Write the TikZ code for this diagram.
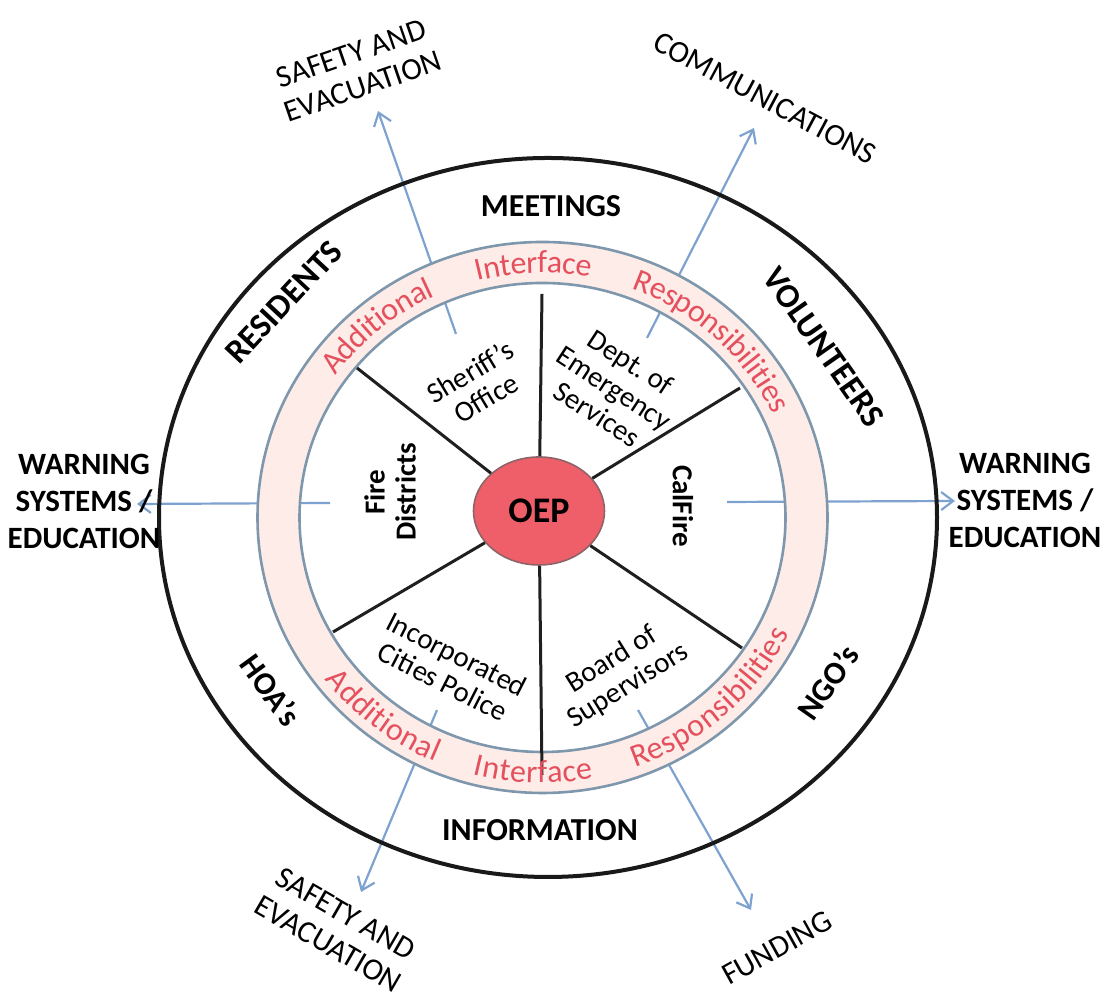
\documentclass[tikz,border=0pt]{standalone}
\usepackage{fontspec}
\setmainfont{Carlito}
\usetikzlibrary{arrows.meta,shapes.geometric,decorations.text}

\definecolor{ringred}{HTML}{E5505E}
\definecolor{ringfill}{HTML}{FDECE7}
\definecolor{ringline}{HTML}{7E97AC}
\definecolor{oepred}{HTML}{EF5F69}
\definecolor{oepedge}{HTML}{8E6368}
\definecolor{arrowblue}{HTML}{7EA2CF}

\newcommand\ringsize{\fontsize{16}{19}\selectfont}
% red words set along the middle of the ring: start angle, end angle, word
\newcommand\ringtext[3]{%
  \path[decorate, decoration={text along path, text={|\ringsize|#3},
        text color=ringred, text align=center, raise=-5.2pt}]
    ([shift={(ringc)}]#1:132pt and 127.5pt)
    arc[start angle=#1, end angle=#2, x radius=132pt, y radius=127.5pt];}

\begin{document}
\begin{tikzpicture}[x=0.5pt,y=0.5pt,
  flow/.style={draw=arrowblue, line width=1.1pt, -{Straight Barb[length=6pt,width=9pt]}},
  spoke/.style={draw=black!88, line width=1.5pt},
  ringedge/.style={draw=ringline, line width=1.3pt},
  band/.style={font=\bfseries\fontsize{16}{19}\selectfont, inner sep=0pt},
  outlabel/.style={font=\fontsize{15.5}{17.5}\selectfont, align=center, inner sep=0pt},
  unit/.style={font=\fontsize{14.5}{15.5}\selectfont, align=center, inner sep=0pt},
  warn/.style={font=\bfseries\fontsize{15.5}{18.5}\selectfont, align=center, inner sep=0pt},
  hub/.style={ellipse, draw=oepedge, line width=0.8pt, fill=oepred, inner sep=0pt,
              minimum width=65.5pt, minimum height=54pt,
              font=\bfseries\fontsize{18}{20}\selectfont}]

\useasboundingbox (0,0) rectangle (1109,1004);

% centres of the outer circle and of the ring
\coordinate (outc) at (548,486.5);
\coordinate (ringc) at (542.5,486.5);

% arrow ends
\coordinate (aul0) at (456,670);  \coordinate (aul1) at (378,893);
\coordinate (aur0) at (647,666);  \coordinate (aur1) at (754,876);
\coordinate (all0) at (437,294);  \coordinate (all1) at (361,112);
\coordinate (alr0) at (638,294);  \coordinate (alr1) at (751,94);
\coordinate (al0) at (330,501);   \coordinate (al1) at (137,500);
\coordinate (ar0) at (727,502);   \coordinate (ar1) at (955,503);

% outgoing arrows (the ring band is painted over them)
\draw[flow] (aul0) -- (aul1);
\draw[flow] (aur0) -- (aur1);
\draw[flow] (all0) -- (all1);
\draw[flow] (alr0) -- (alr1);
\draw[flow] (al0) -- (al1);
\draw[flow] (ar0) -- (ar1);

% outer circle
\draw[line width=2pt, black!90] (outc) ellipse[x radius=194.5pt, y radius=179.75pt];

% ring band
\fill[ringfill, even odd rule]
  (ringc) ellipse[x radius=142.5pt, y radius=137.75pt]
  (ringc) ellipse[x radius=121.5pt, y radius=117.25pt];
\draw[ringedge] (ringc) ellipse[x radius=142.5pt, y radius=137.75pt];
\draw[ringedge] (ringc) ellipse[x radius=121.5pt, y radius=117.25pt];

% hub and spokes
\node[hub] (oep) at (539,493) {OEP};
\coordinate (stop) at (542,710);
\coordinate (sbot) at (542,229);
\coordinate (sul) at (357,636);
\coordinate (sur) at (740,616);
\coordinate (sll) at (333,372);
\coordinate (slr) at (742,356);
\draw[spoke] (oep) -- (stop);
\draw[spoke] (oep) -- (sbot);
\draw[spoke] (oep) -- (sul);
\draw[spoke] (oep) -- (sur);
\draw[spoke] (oep) -- (sll);
\draw[spoke] (oep) -- (slr);

% words in the ring
\ringtext{160}{100}{Additional}
\ringtext{110}{74}{Interface}
\ringtext{80}{14}{Responsibilities}
\ringtext{202}{262}{Additional}
\ringtext{250}{286}{Interface}
\ringtext{280}{344}{Responsibilities}

% units in the sectors
\node[unit, rotate=31] (sheriff) at (478,619) {Sheriff’s\\Office};
\node[unit, rotate=-33] (des) at (614,616) {Dept.\ of\\Emergency\\Services};
\node[unit, font=\bfseries\fontsize{14.5}{15.5}\selectfont, rotate=-90] (calfire) at (683,498) {CalFire};
\node[unit, font=\bfseries\fontsize{14.5}{15.5}\selectfont, rotate=90] (fire) at (390,512) {Fire\\Districts};
\node[unit, rotate=32] (board) at (620,331) {Board of\\Supervisors};
\node[unit, rotate=-27] (police) at (450,336) {Incorporated\\Cities Police};

% groups in the outer band
\node[band] (meet) at (551,798) {MEETINGS};
\node[band] (info) at (540,174) {INFORMATION};
\node[band, font=\bfseries\fontsize{17}{19}\selectfont, rotate=47] (res) at (284,702) {RESIDENTS};
\node[band, font=\bfseries\fontsize{17}{19}\selectfont, rotate=-55] (vol) at (824,657) {VOLUNTEERS};
\node[band, rotate=-54] (hoa) at (271,314) {HOA’s};
\node[band, rotate=55] (ngo) at (828,322) {NGO’s};

% outcomes outside the circle
\node[outlabel, rotate=19] (safe1) at (357,934) {SAFETY AND\\EVACUATION};
\node[outlabel, rotate=-28] (comm) at (765,906) {COMMUNICATIONS};
\node[outlabel, rotate=-30] (safe2) at (337,75) {SAFETY AND\\EVACUATION};
\node[outlabel, rotate=29] (fund) at (777,56) {FUNDING};
\node[warn] (warnl) at (84,503) {WARNING\\SYSTEMS /\\EDUCATION};
\node[warn] (warnr) at (1025,504) {WARNING\\SYSTEMS /\\EDUCATION};

\end{tikzpicture}
\end{document}
